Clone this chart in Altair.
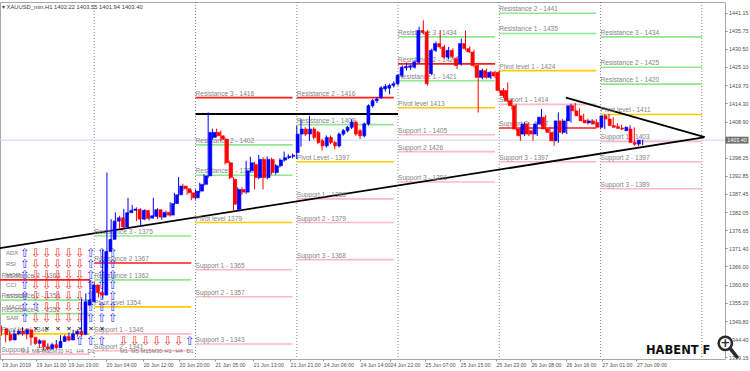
import altair as alt
import pandas as pd

# ---------------- data ----------------
first_hour = 2  # bar index (hours since 19 Jun 00:00) of the first visible candle

opens = [1347.5,1345.8,1344.2,1346.0,1346.8,1346.0,1347.2,1345.0,1343.2,1344.0,
         1342.2,1341.6,1342.8,1341.9,1343.8,1345.2,1344.2,1346.0,1346.8,1345.8,
         1354.5,1355.5,1360.5,1358.2,1357.5,1370.4,1374.0,1379.4,1380.4,1377.7,
         1381.9,1382.6,1382.9,1380.0,1382.6,1380.3,1380.8,1382.8,1380.6,1382.0,
         1381.2,1384.6,1387.2,1389.8,1389.0,1387.8,1386.3,1388.3,1390.3,1392.8,
         1404.2,1405.7,1404.7,1403.7,1396.7,1391.8,1382.9,1388.8,1388.0,1394.3,
         1396.2,1392.3,1397.7,1392.3,1397.7,1393.8,1395.8,1397.5,1398.2,1398.6,
         1399.7,1405.2,1406.7,1405.2,1406.7,1405.7,1403.2,1401.7,1404.2,1402.7,
         1401.7,1405.2,1406.2,1407.2,1408.7,1406.2,1404.7,1408.2,1413.6,1415.1,
         1416.1,1418.6,1418.8,1419.6,1420.1,1422.6,1424.8,1425.0,1425.0,1426.5,
         1435.9,1435.4,1423.1,1430.0,1432.0,1431.0,1428.0,1430.0,1427.5,1426.0,
         1432.0,1430.5,1429.5,1425.5,1422.0,1424.0,1422.0,1423.5,1423.5,1418.1,
         1418.1,1415.1,1413.6,1406.7,1405.2,1408.2,1406.2,1405.2,1408.2,1410.2,
         1406.7,1405.7,1403.2,1409.1,1405.7,1409.1,1413.6,1412.1,1410.6,1409.3,
         1408.5,1409.1,1408.65,1407.2,1410.6,1409.65,1407.7,1407.4,1407.0,1406.2,
         1406.7,1402.7,1402.22]
highs = [1348.5,1346.5,1346.8,1347.2,1347.5,1348.0,1347.6,1345.6,1344.4,1344.5,
         1343.0,1343.2,1343.4,1344.2,1345.6,1345.8,1346.4,1347.2,1347.4,1356.5,
         1358.0,1362.0,1361.5,1359.0,1371.0,1393.8,1380.0,1382.0,1381.0,1383.0,
         1386.3,1384.2,1383.5,1383.2,1383.0,1381.8,1386.3,1383.3,1382.8,1382.6,
         1385.0,1387.8,1392.5,1390.5,1389.8,1388.6,1388.8,1390.8,1393.3,1411.6,
         1406.8,1406.8,1406.2,1404.2,1397.3,1392.4,1389.4,1389.4,1397.3,1398.5,
         1397.0,1399.0,1398.3,1398.6,1398.2,1396.3,1398.0,1400.0,1399.2,1399.4,
         1407.7,1409.6,1407.2,1410.6,1407.2,1406.2,1403.8,1404.8,1404.8,1403.2,
         1405.7,1406.7,1407.6,1409.6,1409.2,1406.7,1408.6,1414.0,1415.6,1416.2,
         1419.4,1420.0,1420.1,1420.8,1423.0,1425.5,1426.4,1425.8,1427.0,1437.0,
         1438.9,1436.0,1430.5,1432.6,1436.0,1431.6,1431.0,1430.6,1428.2,1433.5,
         1435.9,1431.2,1430.2,1426.0,1424.6,1424.6,1423.9,1424.0,1424.0,1418.8,
         1420.5,1415.7,1414.2,1407.2,1408.8,1408.8,1406.8,1408.8,1412.6,1410.8,
         1407.2,1406.2,1411.6,1409.7,1410.0,1414.2,1414.4,1412.8,1411.2,1409.8,
         1409.6,1409.6,1409.2,1411.0,1411.2,1410.2,1408.4,1407.9,1407.5,1407.8,
         1407.2,1403.2,1403.55]
lows = [1345.5,1343.5,1343.8,1345.4,1345.6,1345.5,1344.5,1342.6,1342.8,1341.8,
        1341.2,1341.3,1341.4,1341.6,1343.2,1343.6,1343.8,1345.3,1345.2,1345.2,
        1353.0,1355.0,1357.5,1356.8,1356.5,1369.8,1373.5,1378.8,1377.0,1377.2,
        1381.2,1381.8,1379.4,1377.7,1379.6,1379.6,1380.2,1380.0,1379.8,1380.8,
        1380.8,1384.2,1386.8,1388.4,1387.2,1385.6,1385.8,1387.8,1389.8,1392.2,
        1403.6,1404.2,1403.2,1396.2,1391.8,1382.3,1382.4,1387.2,1387.5,1393.8,
        1388.8,1391.8,1388.8,1391.8,1393.2,1393.2,1395.3,1397.0,1397.8,1398.0,
        1397.8,1401.5,1404.6,1403.2,1403.6,1402.2,1400.3,1401.2,1402.2,1400.7,
        1401.2,1404.7,1405.7,1406.7,1404.7,1403.7,1404.2,1407.7,1413.0,1414.4,
        1415.6,1417.8,1417.0,1419.0,1419.6,1422.0,1424.0,1424.2,1424.6,1426.0,
        1434.8,1419.5,1422.6,1429.5,1430.4,1427.5,1427.4,1427.6,1424.5,1425.5,
        1430.0,1429.2,1425.0,1411.6,1421.4,1421.6,1421.5,1421.8,1417.6,1416.0,
        1414.6,1412.4,1406.2,1403.2,1404.6,1404.6,1403.2,1404.6,1407.6,1406.2,
        1403.2,1401.7,1402.6,1405.2,1405.2,1408.6,1411.6,1410.2,1408.6,1408.0,
        1408.0,1407.8,1406.6,1406.7,1409.2,1407.2,1406.7,1406.4,1406.3,1405.8,
        1401.7,1401.6,1401.94]
closes = [1345.8,1344.2,1346.0,1346.8,1346.0,1347.2,1345.0,1343.2,1344.0,1342.2,
          1341.6,1342.8,1341.9,1343.8,1345.2,1344.2,1346.0,1346.8,1345.8,1355.5,
          1356.0,1360.5,1358.2,1357.5,1370.4,1374.0,1379.4,1380.4,1377.7,1381.9,
          1382.6,1383.0,1380.0,1382.6,1380.2,1381.0,1382.8,1380.6,1382.0,1381.2,
          1384.6,1387.2,1389.8,1389.0,1387.8,1386.3,1388.3,1390.3,1392.8,1405.7,
          1405.7,1404.7,1403.7,1396.7,1392.3,1384.4,1388.8,1388.0,1394.3,1396.7,
          1392.3,1397.7,1392.3,1397.7,1393.8,1395.8,1397.5,1398.2,1398.6,1398.9,
          1405.2,1406.7,1405.2,1406.7,1404.2,1402.7,1401.7,1404.2,1402.7,1401.7,
          1405.2,1406.2,1407.2,1408.7,1405.2,1404.7,1408.2,1413.6,1415.1,1415.6,
          1418.9,1419.3,1419.6,1420.1,1422.6,1425.0,1425.2,1425.4,1426.5,1435.9,
          1435.3,1420.1,1430.0,1432.0,1431.0,1428.0,1430.0,1428.2,1425.5,1432.0,
          1430.5,1429.5,1425.5,1422.0,1424.0,1422.0,1423.5,1422.4,1418.1,1416.6,
          1415.1,1413.6,1406.7,1404.7,1408.2,1405.2,1405.2,1408.2,1410.2,1406.7,
          1405.7,1403.2,1409.1,1405.7,1409.1,1413.6,1412.1,1410.6,1409.1,1408.5,
          1409.1,1408.2,1407.2,1410.6,1409.65,1407.7,1407.2,1406.9,1406.7,1407.2,
          1402.7,1402.2,1403.40]

symbol = "XAUUSD_min,H1"
last_price = 1403.40

x_tick_pos = [2.1, 10.2, 17.8, 26.8, 35.6, 44.1, 52.6, 61.7, 70.4, 78.3, 87.0,
              94.1, 102.4, 110.7, 119.2, 127.5, 135.8, 144.3, 152.5]
x_tick_labels = ["19 Jun 2019", "19 Jun 11:00", "19 Jun 19:00", "20 Jun 04:00",
                 "20 Jun 12:00", "20 Jun 20:00", "21 Jun 05:00", "21 Jun 13:00",
                 "21 Jun 21:00", "24 Jun 06:00", "24 Jun 14:00", "24 Jun 22:00",
                 "25 Jun 07:00", "25 Jun 15:00", "25 Jun 23:00", "26 Jun 08:00",
                 "26 Jun 16:00", "27 Jun 01:00", "27 Jun 09:00"]
y_tick_values = [1441.15, 1435.75, 1430.50, 1425.10, 1419.70, 1414.30, 1408.90,
                 1398.25, 1392.85, 1387.45, 1382.05, 1376.65, 1371.40, 1366.00,
                 1360.60, 1355.20, 1349.80, 1344.40, 1339.15]

day_separators = [24, 48, 72, 96, 120, 144, 168]

# daily pivot levels: (label, price, kind)  kind: r=red, g=green, y=pivot, p=support
piv_19jun = [("Resistance 3 - 1362", 1362, "r"), ("Resistance 2 - 1356", 1356, "g"),
             ("Resistance 1 - 1352", 1352, "g"), ("Pivot level 1346", 1346, "y"),
             ("Support 1 - 1340", 1340, "p")]
piv_20jun = [("Resistance 3 - 1375", 1375, "g"), ("Resistance 2 1367", 1367, "r"),
             ("Resistance 1 1362", 1362, "g"), ("Pivot level 1354", 1354, "y"),
             ("Support 1 - 1346", 1346, "p"), ("Support 2 - 1341", 1341, "p")]
piv_21jun = [("Resistance 3 - 1416", 1416, "r"), ("Resistance 2 - 1402", 1402, "g"),
             ("Resistance 1 - 1393", 1393, "g"), ("Pivot level 1379", 1379, "y"),
             ("Support 1 - 1365", 1365, "p"), ("Support 2 - 1357", 1357, "p"),
             ("Support 3 - 1343", 1343, "p")]
piv_24jun = [("Resistance 2 - 1416", 1416, "r"), ("Resistance 1 - 1408", 1408, "g"),
             ("Pivot Level - 1397", 1397, "y"), ("Support 1 - 1386", 1386, "p"),
             ("Support 2 - 1379", 1379, "p"), ("Support 3 - 1368", 1368, "p")]
piv_25jun = [("Resistance 3 - 1434", 1434, "g"), ("Resistance 2 - 1426", 1426, "r"),
             ("Resistance 1 - 1421", 1421, "g"), ("Pivot level 1413", 1413, "y"),
             ("Support 1 - 1405", 1405, "p"), ("Support 2 1426", 1400, "p"),
             ("Support 3 - 1391", 1391, "p")]
piv_26jun = [("Resistance 2 - 1441", 1441, "g"), ("Resistance 1 - 1435", 1435, "g"),
             ("Pivot level 1 - 1424", 1424, "y"), ("Support 1 - 1414", 1414, "p"),
             ("Support 2 - 1407", 1407, "r"), ("Support 3 - 1397", 1397, "p")]
piv_27jun = [("Resistance 3 - 1434", 1434, "g"), ("Resistance 2 - 1425", 1425, "g"),
             ("Resistance 1 - 1420", 1420, "g"), ("Pivot level - 1411", 1411, "y"),
             ("Support 1 - 1403", 1403, "p"), ("Support 2 - 1397", 1397, "p"),
             ("Support 3 - 1389", 1389, "p")]
pivot_days = [(0, piv_19jun), (24, piv_20jun), (48, piv_21jun), (72, piv_24jun),
              (96, piv_25jun), (120, piv_26jun), (144, piv_27jun)]

rising_trend_t = [0, 168.5]
rising_trend_p = [1371.1, 1404.2]
falling_trend_t = [135.8, 168.7]
falling_trend_p = [1416.0, 1404.3]
flat_line_t = [48, 96]
flat_line_p = 1411.15

# indicator dashboard (signals per timeframe)
panel_rows = ["ADX", "RSI", "MOM", "CCI", "STOCH", "MACD", "SAR"]
panel_signals = ["UDDDDDUUU", "UDDDDDUUU", "UDDDDDUUU", "UDDDDDUUU",
                 "UDDDDDUUU", "UUDDDDUUU", "UDDDDDUUU"]
cross_row = ".XXXXXXX."
bottom_row = ".....UUU.DDDDDDU"
timeframes = ["M1", "M5", "M15", "M30", "H1", "H4", "D1"]
tf_group_cols = [0, 9]
logo_text = "HABENT F"

# ---------------- layout / style ----------------
PLOT_W, PLOT_H = 725, 357
PAD = {"left": 0, "top": 2, "right": 25, "bottom": 12}
X_MIN, X_MAX = 1.66, 173.5
Y_MIN, Y_MAX = 1338.57, 1444.32
FONT = "Liberation Sans"
KIND_COLOR = {"r": "#ff1a1a", "g": "#8fe88f", "y": "#ffcc00", "p": "#ffb8c6"}
UP, DOWN = "#0000ff", "#ff0000"
PANEL_X0, PANEL_DX = 25, 11
PANEL_Y0, PANEL_DY = 253, 10.8
PANEL_LABEL_X = 6
TF_Y = 351

XS = alt.Scale(domain=[X_MIN, X_MAX], nice=False, zero=False)
YS = alt.Scale(domain=[Y_MIN, Y_MAX], nice=False, zero=False)
OVX = alt.Scale(domain=[0, PLOT_W], range=[0, PLOT_W], nice=False, zero=False)
OVY = alt.Scale(domain=[PAD["top"], PAD["top"] + PLOT_H], range=[0, PLOT_H], nice=False, zero=False)

# ---------------- tables ----------------
n = len(opens)
candles = pd.DataFrame({"t": [first_hour + i for i in range(n)], "open": opens,
                        "high": highs, "low": lows, "close": closes})
candles["col"] = [UP if c >= o else DOWN for o, c in zip(opens, closes)]

piv_rows = []
last_day = pivot_days[-1][0]
for start, levels in pivot_days:
    end = start + (24 if start == last_day else 23)
    for lab, price, kind in levels:
        piv_rows.append({"start": start, "end": end, "price": price, "label": lab,
                         "col": KIND_COLOR[kind], "lx": max(start, first_hour)})
pivots = pd.DataFrame(piv_rows)

trends = pd.DataFrame({
    "id": ["rise", "rise", "fall", "fall"],
    "t": rising_trend_t + falling_trend_t,
    "p": rising_trend_p + falling_trend_p,
})
flat = pd.DataFrame({"t": [flat_line_t[0]], "t2": [flat_line_t[1]], "p": [flat_line_p]})
seps = pd.DataFrame({"t": day_separators})
price_df = pd.DataFrame({"p": [last_price], "txt": [f"{last_price:.2f}"]})

glyph = {"U": "⇧", "D": "⇩"}
gcol = {"U": "#3030ff", "D": "#ff3030"}
arrows, crosses, plabels = [], [], []
for r, (name, sig) in enumerate(zip(panel_rows, panel_signals)):
    y = PANEL_Y0 + r * PANEL_DY
    plabels.append({"x": PANEL_LABEL_X, "y": y, "txt": name})
    for c, s in enumerate(sig):
        if s in glyph:
            arrows.append({"x": PANEL_X0 + c * PANEL_DX, "y": y, "g": glyph[s], "col": gcol[s]})
yc = PANEL_Y0 + len(panel_rows) * PANEL_DY
for c, s in enumerate(cross_row):
    if s == "X":
        crosses.append({"x": PANEL_X0 + c * PANEL_DX, "y": yc})
yb = PANEL_Y0 + (len(panel_rows) + 1) * PANEL_DY
for c, s in enumerate(bottom_row):
    if s in glyph:
        arrows.append({"x": PANEL_X0 + c * PANEL_DX, "y": yb + 1.5, "g": glyph[s], "col": gcol[s]})
tfl = []
for g0 in tf_group_cols:
    for k, tf in enumerate(timeframes):
        tfl.append({"x": PANEL_X0 + (g0 + k) * PANEL_DX, "y": TF_Y, "txt": tf})
arrows = pd.DataFrame(arrows)
crosses = pd.DataFrame(crosses)
plabels = pd.DataFrame(plabels)
tfl = pd.DataFrame(tfl)

# ---------------- back layer (objects) ----------------
X0 = alt.X("t:Q", scale=XS, axis=None)
sep_l = alt.Chart(seps).mark_rule(color="#8c8c8c", strokeWidth=1, strokeDash=[1, 2]).encode(x=X0)
piv_l = alt.Chart(pivots).mark_rule(strokeWidth=1.6, clip=True).encode(
    x=alt.X("start:Q", scale=XS, axis=None), x2="end:Q",
    y=alt.Y("price:Q", scale=YS, axis=None), color=alt.Color("col:N", scale=None))
price_line = alt.Chart(price_df).mark_rule(color="#cfd0f5", strokeWidth=1).encode(
    y=alt.Y("p:Q", scale=YS, axis=None))
flat_l = alt.Chart(flat).mark_rule(color="black", strokeWidth=1.8).encode(
    x=alt.X("t:Q", scale=XS, axis=None), x2="t2:Q", y=alt.Y("p:Q", scale=YS, axis=None))
trend_l = alt.Chart(trends).mark_line(color="black", strokeWidth=1.8, clip=True).encode(
    x=alt.X("t:Q", scale=XS, axis=None), y=alt.Y("p:Q", scale=YS, axis=None), detail="id:N")
piv_txt = alt.Chart(pivots).mark_text(align="left", baseline="bottom", dy=-1, fontSize=6.6,
                                      font=FONT, color="#858585").encode(
    x=alt.X("lx:Q", scale=XS, axis=None), y=alt.Y("price:Q", scale=YS, axis=None), text="label:N")
back = alt.layer(sep_l, piv_l, price_line, flat_l, trend_l, piv_txt)

# ---------------- indicator panel (screen anchored) ----------------
OX = lambda f: alt.X(f, scale=OVX, axis=None)
OY = lambda f: alt.Y(f, scale=OVY, axis=None)
arr_l = alt.Chart(arrows).mark_text(font="DejaVu Sans", fontSize=12, baseline="middle").encode(
    x=OX("x:Q"), y=OY("y:Q"), text="g:N", color=alt.Color("col:N", scale=None))
cross_l = alt.Chart(crosses).mark_text(text="✕", font="DejaVu Sans", fontSize=6.5,
                                       fontWeight="bold", color="black", baseline="middle").encode(
    x=OX("x:Q"), y=OY("y:Q"))
plab_l = alt.Chart(plabels).mark_text(align="left", baseline="middle", fontSize=6, font=FONT,
                                      color="#7a7a7a").encode(x=OX("x:Q"), y=OY("y:Q"), text="txt:N")
tf_l = alt.Chart(tfl).mark_text(baseline="middle", fontSize=5.6, font=FONT, color="#7a7a7a").encode(
    x=OX("x:Q"), y=OY("y:Q"), text="txt:N")
panel = alt.layer(plab_l, tf_l, arr_l, cross_l)

# ---------------- axes (carried by the wick layer alone) ----------------
x_label_expr = ("[" + ",".join(f"'{s}'" for s in x_tick_labels) + "][indexof(["
                + ",".join(str(v) for v in x_tick_pos) + "], datum.value)]")
x_axis = alt.Axis(values=x_tick_pos, labelExpr=x_label_expr, labelAlign="left", labelFontSize=5.2,
                  labelFont=FONT, labelColor="#505050", tickSize=2, tickColor="#909090",
                  labelPadding=1, domain=False, grid=False, title=None, labelOverlap=False,
                  labelFlush=False, labelBaseline="top", orient="bottom")
y_axis = alt.Axis(orient="right", values=y_tick_values, format=".2f", labelFontSize=5.4,
                  labelFont=FONT, labelColor="#505050", tickSize=2, tickColor="#909090",
                  labelPadding=1.5, domain=False, grid=False, title=None, labelOverlap=False,
                  labelFlush=False, labelBaseline="middle")
wick = alt.Chart(candles).mark_rule(strokeWidth=1).encode(
    x=alt.X("t:Q", scale=XS, axis=x_axis),
    y=alt.Y("low:Q", scale=YS, axis=y_axis), y2="high:Q",
    color=alt.Color("col:N", scale=None))

# ---------------- candle bodies + price box ----------------
body = alt.Chart(candles).mark_bar(size=3, strokeWidth=0.6).encode(
    x=alt.X("t:Q", scale=XS, axis=None), y=alt.Y("open:Q", scale=YS, axis=None), y2="close:Q",
    color=alt.Color("col:N", scale=None), stroke=alt.Stroke("col:N", scale=None))
pbox = alt.Chart(price_df).mark_point(shape="M-1,-0.3H1V0.3H-1Z", size=529, filled=True,
                                      color="#6e6e6e", opacity=1).encode(
    x=alt.value(737), y=alt.Y("p:Q", scale=YS, axis=None))
ptxt = alt.Chart(price_df).mark_text(color="white", fontSize=5.4, font=FONT, baseline="middle").encode(
    x=alt.value(737), y=alt.Y("p:Q", scale=YS, axis=None), text="txt:N")
front = alt.layer(body, pbox, ptxt)

# ---------------- header / logo / zoom icon ----------------
hdr = pd.DataFrame({"x": [2], "y": [7],
                    "txt": [f"▾ {symbol}  " + " ".join(f"{v:.2f}" for v in (opens[-1], highs[-1], lows[-1], closes[-1]))]})
hdr_l = alt.Chart(hdr).mark_text(align="left", baseline="middle", fontSize=5.8, font=FONT,
                                 color="#404040").encode(x=OX("x:Q"), y=OY("y:Q"), text="txt:N")
logo = pd.DataFrame({"x": [646], "y": [354.3], "txt": [logo_text]})
logo_l = alt.Chart(logo).mark_text(align="left", baseline="alphabetic", fontSize=11.5,
                                   font="DejaVu Sans", fontWeight="bold", color="#111111").encode(
    x=OX("x:Q"), y=OY("y:Q"), text="txt:N")
icon = pd.DataFrame({"x": [725.3], "y": [343.3], "x2": [737], "y2": [357], "x1": [730.5], "y1": [348.8]})
handle_l = alt.Chart(icon).mark_rule(strokeWidth=3.5, color="#2a2a2a", strokeCap="round").encode(
    x=OX("x1:Q"), y=OY("y1:Q"), x2="x2:Q", y2="y2:Q")
lens_l = alt.Chart(icon).mark_point(shape="circle", size=177, filled=True, fill="white",
                                    stroke="#2a2a2a", strokeWidth=2.5, opacity=1).encode(
    x=OX("x:Q"), y=OY("y:Q"))
plus_l = alt.Chart(icon).mark_text(text="+", font="DejaVu Sans", fontSize=12, fontWeight="bold",
                                   color="#2a2a2a", baseline="middle").encode(x=OX("x:Q"), y=OY("y:Q"))
top = alt.layer(hdr_l, logo_l, handle_l, lens_l, plus_l)

chart = alt.layer(back, panel, wick, front, top).resolve_scale(
    x="independent", y="independent"
).properties(
    width=PLOT_W, height=PLOT_H, padding=PAD, autosize=alt.AutoSizeParams(type="none"),
    background="white"
).configure_view(stroke="#a8a8a8", strokeWidth=1)

chart.save("out.html", embed_options={"renderer": "svg", "actions": False})
